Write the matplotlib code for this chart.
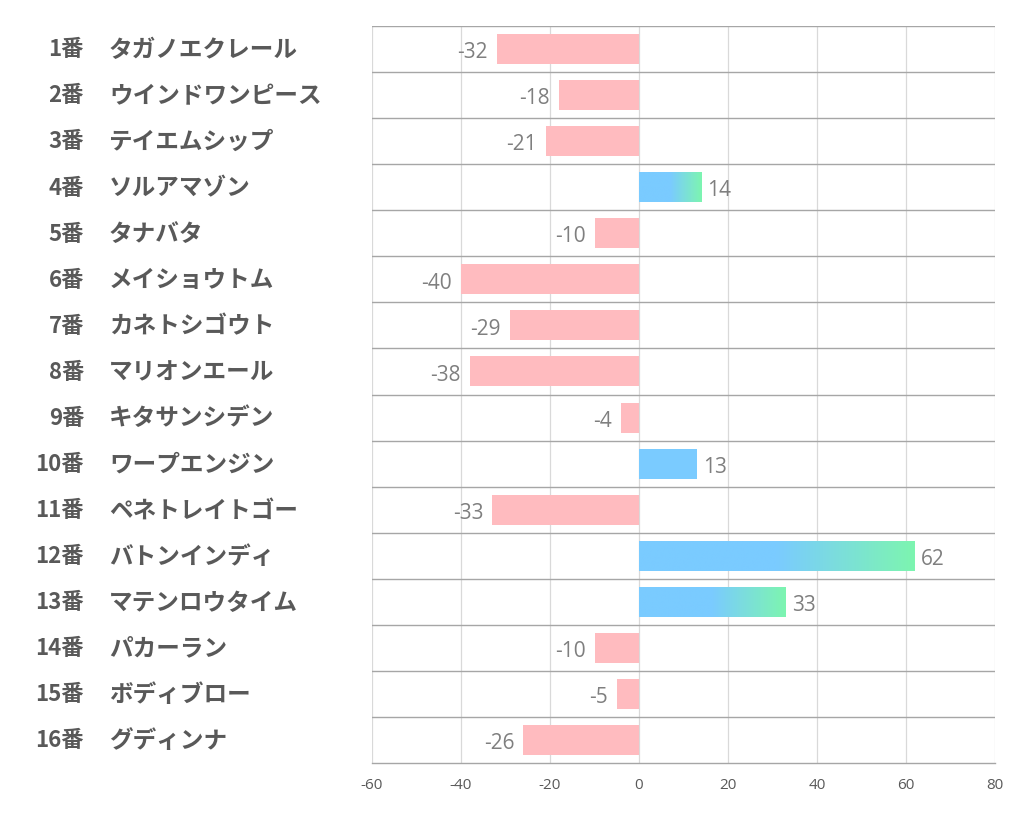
import matplotlib
matplotlib.use("Agg")
import matplotlib.pyplot as plt
import numpy as np
from matplotlib.colors import LinearSegmentedColormap

numbers = ["1番", "2番", "3番", "4番", "5番", "6番", "7番", "8番", "9番", "10番",
           "11番", "12番", "13番", "14番", "15番", "16番"]
names = ["タガノエクレール", "ウインドワンピース", "テイエムシップ", "ソルアマゾン", "タナバタ",
         "メイショウトム", "カネトシゴウト", "マリオンエール", "キタサンシデン", "ワープエンジン",
         "ペネトレイトゴー", "バトンインディ", "マテンロウタイム", "パカーラン", "ボディブロー", "グディンナ"]
values = [-32, -18, -21, 14, -10, -40, -29, -38, -4, 13, -33, 62, 33, -10, -5, -26]
gradient_bar = [False, False, False, True, False, False, False, False, False, False,
                False, True, True, False, False, False]
xticks = [-60, -40, -20, 0, 20, 40, 60, 80]

plt.rcParams['font.family'] = ['Noto Sans CJK JP', 'DejaVu Sans']

fig = plt.figure(figsize=(10.22, 8.34), dpi=100)
ax = fig.add_axes([372/1022, 1-763/834, (995-372)/1022, (763-26)/834])

pink = "#FFBBBF"
blue = "#7ACBFF"
green = "#7DF5B0"
cmap = LinearSegmentedColormap.from_list("bg", [(0, blue), (0.5, blue), (1, green)])

n = len(values)
h = 0.65
for i, v in enumerate(values):
    if v < 0:
        ax.barh(i, v, height=h, color=pink, zorder=2)
    else:
        if gradient_bar[i]:
            grad = np.linspace(0, 1, 256).reshape(1, -1)
            ax.imshow(grad, cmap=cmap, aspect='auto', extent=(0, v, i + h/2, i - h/2),
                      zorder=2, interpolation='bilinear')
        else:
            ax.barh(i, v, height=h, color=blue, zorder=2)

for i, v in enumerate(values):
    if v < 0:
        ax.text(v - 2.0, i + 0.08, str(v), ha='right', va='center', fontsize=15,
                color='#7F7F7F', family=['Open Sans', 'DejaVu Sans'])
    else:
        ax.text(v + 1.4, i + 0.08, str(v), ha='left', va='center', fontsize=15,
                color='#7F7F7F', family=['Open Sans', 'DejaVu Sans'])

ax.set_xlim(-60, 80)
ax.set_ylim(n - 0.5, -0.5)
ax.set_xticks(xticks)
ax.set_xticklabels([str(t) for t in xticks], fontsize=11, color='#595959',
                   family=['Open Sans', 'DejaVu Sans'])
ax.tick_params(axis='x', length=0, pad=11)
ax.set_yticks([])
for x in xticks:
    ax.axvline(x, color='#D9D9D9', lw=0.9, zorder=1)
for b in np.arange(-0.5, n - 0.5, 1.0):
    ax.axhline(b, color='#A6A6A6', lw=1.0, zorder=1)
for s in ['top', 'right', 'left']:
    ax.spines[s].set_visible(False)
ax.spines['bottom'].set_color('#A6A6A6')
ax.spines['bottom'].set_linewidth(1.0)

for i in range(n):
    yfig = 1 - (26 + (i + 0.5) * (763 - 26) / n) / 834
    fig.text(84/1022, yfig - 0.001, numbers[i], ha='right', va='center', fontsize=16,
             fontweight='bold', color='#595959')
    fig.text(109/1022, yfig - 0.001, names[i], ha='left', va='center', fontsize=17,
             fontweight='bold', color='#595959')

fig.savefig("out.png", dpi=100)
